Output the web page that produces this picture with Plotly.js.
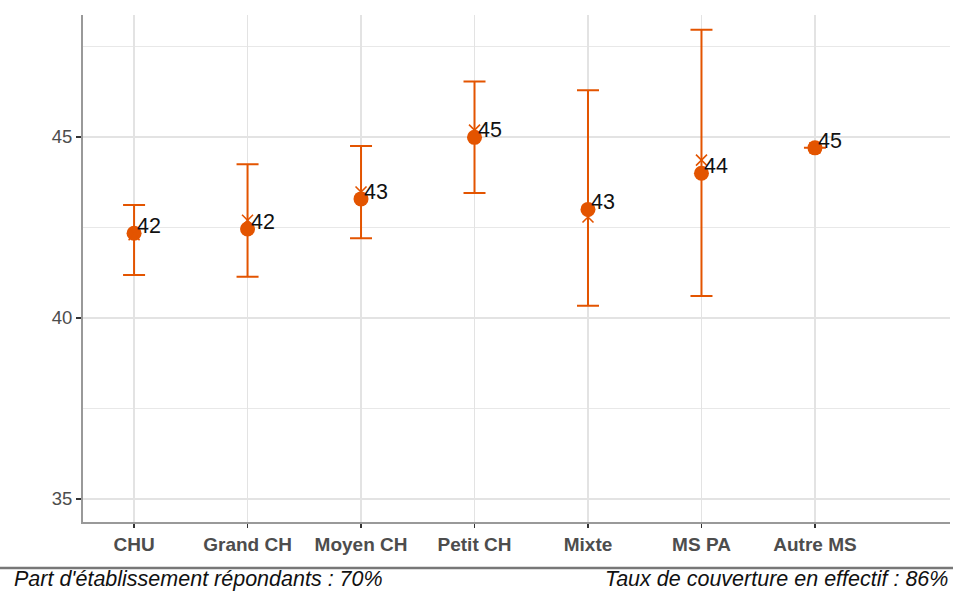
<!DOCTYPE html>
<html>
<head>
<meta charset="utf-8">
<script src="https://cdn.plot.ly/plotly-3.0.1.min.js"></script>
<style>html,body{margin:0;padding:0;background:#fff;}#chart{width:953px;height:591px;}</style>
</head>
<body>
<div id="chart"></div>
<script>
const categories = ["CHU", "Grand CH", "Moyen CH", "Petit CH", "Mixte", "MS PA", "Autre MS"];
const means = [42.34, 42.46, 43.29, 44.99, 43.0, 44.0, 44.70];
const medians = [42.3, 42.7, 43.48, 45.19, 42.79, 44.36, 44.70];
const upper = [43.12, 44.25, 44.75, 46.53, 46.29, 47.96, 44.70];
const lower = [41.19, 41.14, 42.20, 43.45, 40.34, 40.61, 44.70];
const labels = means.map(v => String(Math.round(v)));
const footerLeft = "Part d'établissement répondants : 70%";
const footerRight = "Taux de couverture en effectif : 86%";

const orange = "#E35400";
const xIdx = categories.map((c, i) => i);

const traces = [
  {
    type: "scatter", mode: "markers",
    x: xIdx, y: means,
    marker: {color: orange, size: 15, symbol: "circle"},
    error_y: {
      type: "data", symmetric: false,
      array: upper.map((u, i) => u - means[i]),
      arrayminus: means.map((m, i) => m - lower[i]),
      color: orange, thickness: 2, width: 11
    },
    hoverinfo: "skip", showlegend: false
  },
  {
    type: "scatter", mode: "markers",
    x: xIdx, y: medians,
    marker: {color: orange, size: 11, symbol: "x-thin", line: {color: orange, width: 1.6}},
    hoverinfo: "skip", showlegend: false
  }
];

const annotations = means.map((m, i) => ({
  x: i, y: m, xref: "x", yref: "y",
  text: labels[i], showarrow: false,
  xanchor: "left", yanchor: "middle",
  xshift: 1, yshift: 7,
  font: {family: "Liberation Sans, Arial, sans-serif", size: 21.5, color: "#111"}
}));
const footY = -(579 - 522) / 507;
annotations.push({
  xref: "paper", yref: "paper", x: -71/867, y: footY,
  text: "<i>" + footerLeft + "</i>", showarrow: false,
  xanchor: "left", yanchor: "middle",
  font: {family: "Liberation Sans, Arial, sans-serif", size: 21.5, color: "#111"}
});
annotations.push({
  xref: "paper", yref: "paper", x: 1, y: footY,
  text: "<i>" + footerRight + "</i>", showarrow: false,
  xanchor: "right", yanchor: "middle",
  font: {family: "Liberation Sans, Arial, sans-serif", size: 21.5, color: "#111"}
});

const layout = {
  width: 953, height: 591,
  margin: {l: 83, r: 3, t: 15, b: 69},
  paper_bgcolor: "#fff", plot_bgcolor: "#fff",
  showlegend: false,
  xaxis: {
    range: [-0.45, 7.19],
    tickmode: "array", tickvals: xIdx, ticktext: categories.map(c => "<b>" + c + "</b>"),
    showgrid: true, gridcolor: "#e3e3e3", gridwidth: 1.8,
    zeroline: false,
    showline: true, linecolor: "#999", linewidth: 2,
    ticks: "outside", ticklen: 4, tickcolor: "#333", tickwidth: 1.5,
    tickfont: {family: "Liberation Sans, Arial, sans-serif", size: 19, color: "#4d4d4d"}
  },
  yaxis: {
    range: [34.365, 48.37],
    tickmode: "array", tickvals: [35, 40, 45], ticktext: ["35", "40", "45"],
    showgrid: true, gridcolor: "#e3e3e3", gridwidth: 1.8,
    minor: {tickvals: [37.5, 42.5, 47.5], showgrid: true, gridcolor: "#e8e8e8", gridwidth: 1.5, ticks: ""},
    zeroline: false,
    showline: true, linecolor: "#999", linewidth: 2,
    ticks: "outside", ticklen: 5, tickcolor: "#333", tickwidth: 1.5,
    tickfont: {family: "Liberation Sans, Arial, sans-serif", size: 18.5, color: "#4d4d4d"}
  },
  annotations: annotations,
  shapes: [{
    type: "line", xref: "paper", yref: "paper",
    x0: -83/867, x1: 1 + 3/867, y0: -46/507, y1: -46/507,
    line: {color: "#777", width: 2.5}
  }]
};

Plotly.newPlot("chart", traces, layout, {displayModeBar: false, staticPlot: true});
</script>
</body>
</html>
